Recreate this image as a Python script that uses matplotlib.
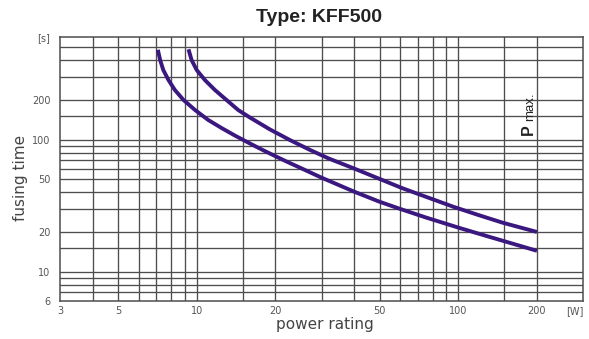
import matplotlib
matplotlib.use("Agg")
import matplotlib.pyplot as plt

# ---- data ----
title = "Type: KFF500"
x_label = "power rating"
y_label = "fusing time"

lower_w = [7.1, 7.25, 7.45, 7.8, 8.25, 8.9, 9.85, 11.07, 12.5, 14, 16, 18, 20, 22, 25, 30, 40, 50, 60, 75, 100, 130, 160, 200]
lower_t = [480, 400, 337, 283, 238, 200, 168, 141, 122, 107.5, 93.5, 83, 75, 68.5, 61, 51.6, 40.4, 33.9, 29.9, 25.8, 21.6, 18.5, 16.4, 14.4]

upper_w = [9.3, 9.56, 10, 10.75, 11.74, 13, 14.4, 16, 19, 22.7, 27, 32, 40, 50, 61, 78, 96, 120, 148, 200]
upper_t = [484, 401, 337, 283, 238, 200, 168, 147, 120, 99.5, 84, 72, 60.5, 50.5, 43, 36, 31, 26.8, 23.5, 20]

x_ticks = [3, 5, 10, 20, 50, 100, 200]
x_tick_labels = ["3", "5", "10", "20", "50", "100", "200"]
y_ticks = [6, 10, 20, 50, 100, 200, 600]
y_tick_labels = ["6", "10", "20", "50", "100", "200", "[s]"]

x_grid = [4, 5, 6, 7, 8, 9, 10, 15, 20, 30, 40, 50, 60, 70, 80, 90, 100, 150, 200]
y_grid = [7, 8, 9, 10, 15, 20, 30, 40, 50, 60, 70, 80, 90, 100, 150, 200, 300, 400, 500]

x_min, x_max = 3, 300
y_min, y_max = 6, 600

# ---- figure ----
W, H = 589, 339
fig = plt.figure(figsize=(W / 100, H / 100), dpi=100)

def fx(px):
    return px / W

def fy(py):
    return 1 - py / H

ax = fig.add_axes([fx(60), fy(301), 523 / W, 264 / H])
ax.set_xscale("log")
ax.set_yscale("log")
ax.set_xlim(x_min, x_max)
ax.set_ylim(y_min, y_max)

grid_color = "#4d4d4d"
for gx in x_grid:
    ax.axvline(gx, color=grid_color, lw=0.95, zorder=1)
for gy in y_grid:
    ax.axhline(gy, color=grid_color, lw=0.95, zorder=1)
for s in ax.spines.values():
    s.set_color(grid_color)
    s.set_linewidth(1.1)

curve_color = "#3a1880"
ax.plot(lower_w, lower_t, color=curve_color, lw=2.8, solid_capstyle="butt",
        solid_joinstyle="round", zorder=3)
ax.plot(upper_w, upper_t, color=curve_color, lw=2.8, solid_capstyle="butt",
        solid_joinstyle="round", zorder=3)

ax.xaxis.set_minor_locator(matplotlib.ticker.NullLocator())
ax.yaxis.set_minor_locator(matplotlib.ticker.NullLocator())
ax.set_xticks(x_ticks)
ax.set_xticklabels(x_tick_labels)
ax.set_yticks(y_ticks)
ax.set_yticklabels(y_tick_labels)
ax.tick_params(axis="both", length=0, labelsize=7, labelcolor="#555555")
ax.tick_params(axis="x", pad=3.5)
ax.tick_params(axis="y", pad=7)

ax.text(280, -5 / 264, "[W]", transform=ax.get_xaxis_transform(), ha="center", va="top",
        fontsize=7, color="#555555")

fig.text(fx(319), fy(17), title, ha="center", va="center", fontsize=14,
         fontweight="bold", family="Liberation Sans", color="#222222")
fig.text(fx(325), fy(324), x_label, ha="center", va="center", fontsize=11, color="#444444")
fig.text(fx(21), fy(178), y_label, ha="center", va="center", rotation=90, fontsize=11,
         color="#444444")

fig.text(fx(533), fy(135), "P", rotation=90, rotation_mode="anchor", ha="left",
         va="baseline", fontsize=11.5, fontweight="bold", family="Liberation Sans", color="#222222")
fig.text(fx(533), fy(121), "max.", rotation=90, rotation_mode="anchor", ha="left",
         va="baseline", fontsize=9.5, family="Liberation Sans", color="#222222")

fig.savefig("out.png", dpi=100)
